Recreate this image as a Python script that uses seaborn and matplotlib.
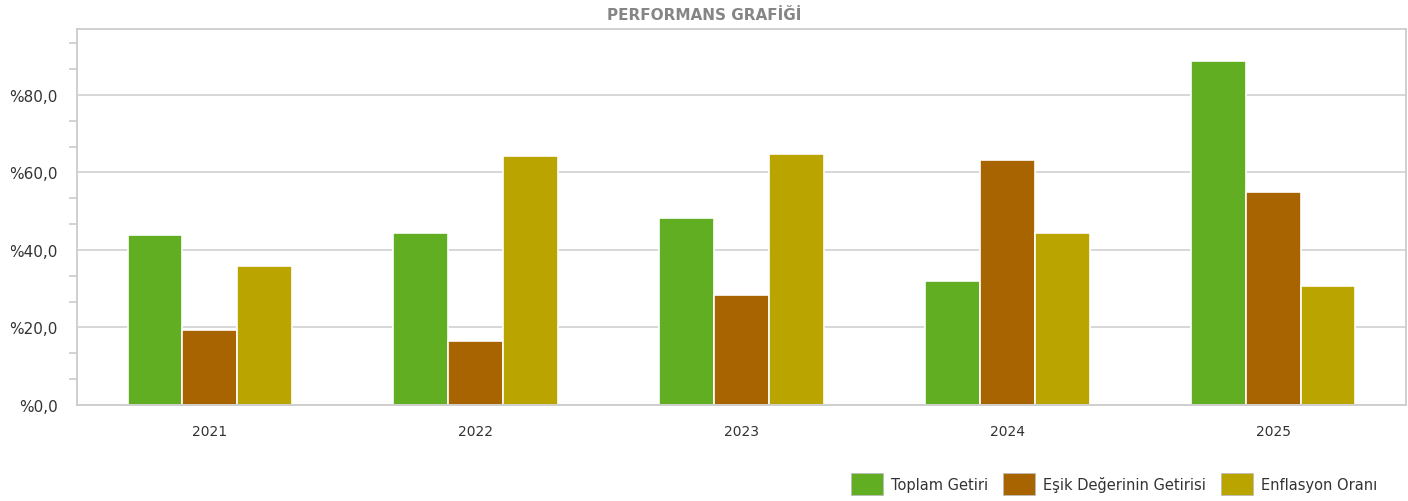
import pandas as pd
import numpy as np
import matplotlib
matplotlib.use('Agg')
import matplotlib.pyplot as plt
from matplotlib.ticker import FuncFormatter, MultipleLocator
import seaborn as sns

# values (percent)
years = ['2021', '2022', '2023', '2024', '2025']
series = ['Toplam Getiri', 'Eşik Değerinin Getirisi', 'Enflasyon Oranı']
toplam_getiri = [43.9, 44.4, 48.2, 32.1, 88.7]
esik_getiri = [19.4, 16.6, 28.5, 63.2, 54.9]
enflasyon = [35.9, 64.2, 64.7, 44.3, 30.8]
colors = ['#62ae23', '#a86400', '#baa500']

# long-form table for seaborn
df = pd.DataFrame({
    'Yıl': years * 3,
    'Seri': np.repeat(series, len(years)),
    'Değer': toplam_getiri + esik_getiri + enflasyon,
})

sns.set_theme(style='white')
plt.rcParams['font.family'] = ['DejaVu Sans']

fig = plt.figure(figsize=(14.08, 5.02), dpi=100)
ax = fig.add_axes([77 / 1408, 96 / 502, (1406 - 77) / 1408, (406 - 30) / 502])

sns.barplot(data=df, x='Yıl', y='Değer', hue='Seri', palette=colors,
            width=0.62, edgecolor='white', linewidth=1.2, saturation=1,
            legend=False, ax=ax)

# axes styling
ax.set_xlim(-0.5, 4.5)
ax.set_ylim(0, 97)
ax.yaxis.set_major_locator(MultipleLocator(20))
ax.yaxis.set_minor_locator(MultipleLocator(20 / 3))
ax.yaxis.set_major_formatter(FuncFormatter(lambda v, p: '%' + f'{v:.1f}'.replace('.', ',')))
ax.grid(axis='y', which='major', color='#d4d4d4', linewidth=1.3)
ax.set_axisbelow(True)
for s in ax.spines.values():
    s.set_color('#cccccc')
    s.set_linewidth(1.3)
ax.tick_params(axis='y', which='major', length=11, width=1.2, color='#cccccc',
               labelsize=11, labelcolor='#333333', pad=3)
ax.tick_params(axis='y', which='minor', left=True, length=6, width=1.2, color='#cccccc')
ax.tick_params(axis='x', length=8, width=1.2, color='#cccccc',
               labelsize=10, labelcolor='#333333', pad=6)
ax.set_xlabel('')
ax.set_ylabel('')

fig.text(0.5, 1 - 15 / 502, 'PERFORMANS GRAFİĞİ',
         ha='center', va='center', fontsize=11, fontweight='bold', color='#858585')

# legend at bottom right
handles = [plt.Rectangle((0, 0), 1, 1, facecolor=c, edgecolor='#bbbbbb', linewidth=0.6)
           for c in colors]
fig.legend(handles, series, loc='center right', bbox_to_anchor=(1 - 18 / 1408, 1 - 485 / 502),
           ncol=3, frameon=False, fontsize=10.5, handlelength=2.2, handleheight=2.0,
           handletextpad=0.55, columnspacing=1.0, labelcolor='#333333')

fig.savefig('out.png', dpi=100)
